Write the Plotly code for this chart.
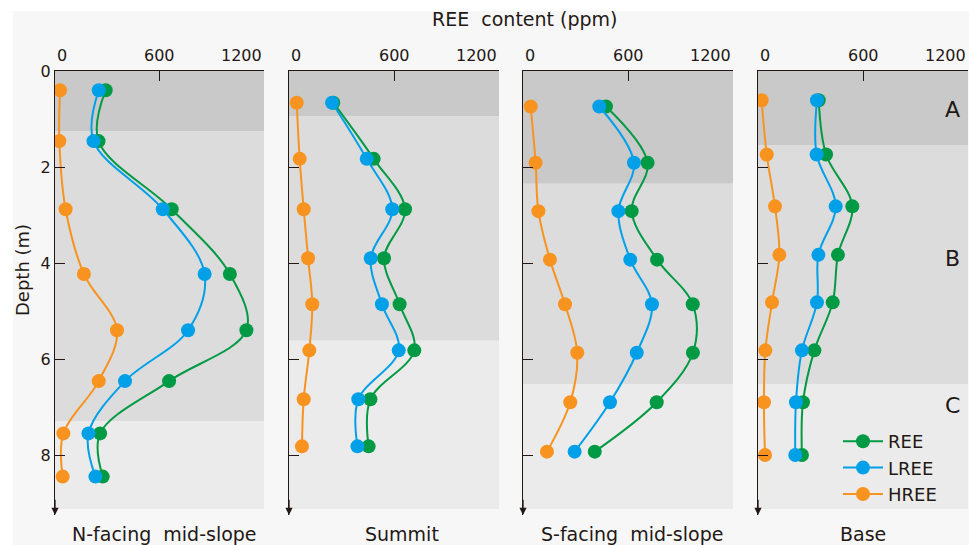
import plotly.graph_objects as go

# ---- data: REE content (ppm) versus depth (m) at four slope positions ----
sites = ["N-facing mid-slope", "Summit", "S-facing mid-slope", "Base"]

depth_n = [0.40, 1.46, 2.88, 4.23, 5.40, 6.46, 7.55, 8.45]
ree_n = [291, 250, 670, 1004, 1099, 655, 259, 274]
lree_n = [251, 221, 619, 859, 764, 402, 192, 232]
hree_n = [29, 25, 61, 166, 356, 251, 48, 44]

depth_summit = [0.66, 1.83, 2.88, 3.90, 4.86, 5.82, 6.84, 7.82]
ree_summit = [253, 484, 663, 543, 632, 716, 465, 455]
lree_summit = [246, 444, 590, 467, 531, 627, 396, 391]
hree_summit = [44, 61, 84, 109, 133, 116, 84, 74]

depth_s = [0.74, 1.91, 2.92, 3.93, 4.86, 5.87, 6.90, 7.93]
ree_s = [474, 712, 621, 766, 970, 971, 764, 410]
lree_s = [436, 634, 545, 613, 737, 650, 497, 295]
hree_s = [44, 72, 88, 154, 240, 310, 270, 137]

depth_base = [0.61, 1.74, 2.82, 3.83, 4.82, 5.82, 6.90, 8.00]
ree_base = [347, 389, 539, 457, 427, 322, 257, 251]
lree_base = [337, 335, 444, 345, 337, 251, 217, 213]
hree_base = [21, 50, 97, 122, 80, 42, 34, 40]

# horizon boundaries (m): A/B and B/C, plus bottom of the profile
ab_bounds = [1.25, 0.94, 2.35, 1.54]
bc_bounds = [7.29, 5.62, 6.52, 6.52]
profile_bottom = 9.125

x_ticks = [0, 600, 1200]
y_ticks = [0, 2, 4, 6, 8]
horizon_names = ["A", "B", "C"]
horizon_label_depths = [0.81, 3.90, 6.96]

series_names = ["REE", "LREE", "HREE"]
series_colors = ["#009a44", "#00a0e9", "#f8931f"]

panels = [
    (depth_n, [ree_n, lree_n, hree_n]),
    (depth_summit, [ree_summit, lree_summit, hree_summit]),
    (depth_s, [ree_s, lree_s, hree_s]),
    (depth_base, [ree_base, lree_base, hree_base]),
]

# ---- layout geometry (pixels) ----
W, H = 969, 545
panel_px = [(55, 264), (289, 499), (523, 733), (758, 968)]
top_px, bottom_px = 71, 515
ink = "#231815"
font_family = "DejaVu Sans, Verdana, sans-serif"
band_colors = ["#c9c9c9", "#dcdcdc", "#ebebeb"]


def fx(p):
    return p / W


def fy(p):
    return 1 - p / H


def font(size):
    return dict(size=size, color=ink, family=font_family)


fig = go.Figure()
shapes = []
annotations = []

# page backdrop
shapes.append(dict(type="rect", xref="paper", yref="paper", x0=fx(13), x1=1.0,
                   y0=-0.01, y1=fy(11), fillcolor="#f7f7f7", line_width=0,
                   layer="below"))

for i, (depth, vals) in enumerate(panels):
    k = "" if i == 0 else str(i + 1)
    xa, ya = "x" + k, "y" + k
    for name, color, v in zip(series_names, series_colors, vals):
        fig.add_trace(go.Scatter(
            x=v, y=depth, name=name, mode="lines+markers",
            line=dict(color=color, width=2, shape="spline", smoothing=1),
            marker=dict(color=color, size=14),
            xaxis=xa, yaxis=ya, showlegend=(i == 3),
        ))

    # soil horizon bands
    edges = [0, ab_bounds[i], bc_bounds[i], profile_bottom]
    for j in range(3):
        shapes.append(dict(type="rect", xref=xa, yref=ya, x0=0, x1=1200,
                           y0=edges[j], y1=edges[j + 1],
                           fillcolor=band_colors[j], line_width=0, layer="below"))

    x0p, x1p = panel_px[i]
    fig.layout["xaxis" + k] = dict(
        domain=[fx(x0p), fx(x1p)], range=[0, 1200], side="top", anchor=ya,
        showline=True, linecolor=ink, linewidth=1.3, ticks="inside",
        tickvals=x_ticks, ticklen=10, tickwidth=1.3, tickcolor=ink,
        showticklabels=False, showgrid=False, zeroline=False, fixedrange=True,
        automargin=False,
    )
    fig.layout["yaxis" + k] = dict(
        domain=[fy(bottom_px), fy(top_px)], range=[9.25, 0], anchor=xa,
        showline=True, linecolor=ink, linewidth=1.3, ticks="inside",
        tickvals=y_ticks, ticklen=10, tickwidth=1.3, tickcolor=ink,
        showticklabels=(i == 0), tickfont=font(16),
        showgrid=False, zeroline=False, fixedrange=True, automargin=False,
    )

    # x tick labels: first left-aligned, middle centred, last right-aligned
    for t, anc in zip(x_ticks, ["left", "center", "right"]):
        annotations.append(dict(x=t, xref=xa, y=fy(55), yref="paper", text=str(t),
                                showarrow=False, xanchor=anc, yanchor="middle",
                                font=font(16)))

    # downward arrow on the depth axis
    annotations.append(dict(x=0, y=9.25, xref=xa, yref=ya, ax=0, ay=8.9,
                            axref=xa, ayref=ya, text="", showarrow=True,
                            arrowhead=2, arrowsize=1.1, arrowwidth=1.3,
                            arrowcolor=ink))

# site names below each profile
site_centers = [164, 402, 632, 863]
for name, cx in zip(sites, site_centers):
    annotations.append(dict(x=fx(cx), y=fy(534), xref="paper", yref="paper",
                            text=name.replace(" ", "\u00a0 "), showarrow=False,
                            xanchor="center", yanchor="middle", font=font(19)))

# horizon letters in the last panel
for name, d in zip(horizon_names, horizon_label_depths):
    annotations.append(dict(x=fx(952), y=d, xref="paper", yref="y4", text=name,
                            showarrow=False, xanchor="center", yanchor="middle",
                            font=font(22)))

# common axis titles
annotations.append(dict(x=fx(525), y=fy(19), xref="paper", yref="paper",
                        text="REE\u00a0 content (ppm)", showarrow=False,
                        xanchor="center", yanchor="middle", font=font(19)))
annotations.append(dict(x=fx(22), y=fy(270), xref="paper", yref="paper",
                        text="Depth (m)", textangle=-90, showarrow=False,
                        xanchor="center", yanchor="middle", font=font(18)))

fig.update_layout(
    width=W, height=H,
    margin=dict(l=0, r=0, t=0, b=0, pad=0, autoexpand=False),
    paper_bgcolor="white", plot_bgcolor="rgba(0,0,0,0)",
    shapes=shapes, annotations=annotations,
    legend=dict(x=fx(838), y=fy(423), xanchor="left", yanchor="top",
                bgcolor="rgba(0,0,0,0)", font=font(18),
                itemwidth=40, tracegroupgap=0),
    font=dict(family=font_family, color=ink),
)

fig.write_html("out.html")
